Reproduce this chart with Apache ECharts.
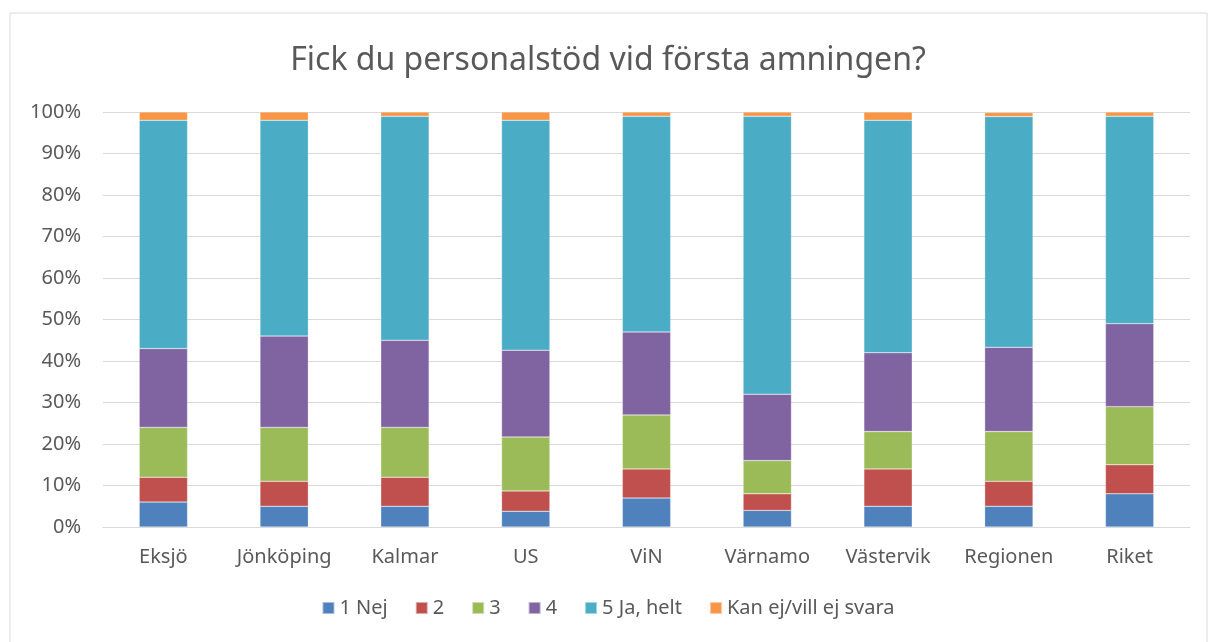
<!DOCTYPE html>
<html>
<head>
<meta charset="utf-8">
<script src="https://cdn.jsdelivr.net/npm/echarts@6/dist/echarts.min.js"></script>
<style>
    html, body { margin: 0; padding: 0; background: #fff; }
    #chart { width: 1216px; height: 642px; }
</style>
</head>
<body>
<div id="chart"></div>
<script>
var categories = ['Eksjö', 'Jönköping', 'Kalmar', 'US', 'ViN', 'Värnamo', 'Västervik', 'Regionen', 'Riket'];
var nej = [6, 5, 5, 3.8, 7, 4, 5, 5, 8];
var two = [6, 6, 7, 4.9, 7, 4, 9, 6, 7];
var three = [12, 13, 12, 13, 13, 8, 9, 12, 14];
var four = [19, 22, 21, 20.9, 20, 16, 19, 20.3, 20];
var jaHelt = [55, 52, 54, 55.4, 52, 67, 56, 55.6, 50];
var kanEj = [2, 2, 1, 2, 1, 1, 2, 1, 1];
var seriesNames = ['1 Nej', '2', '3', '4', '5 Ja, helt', 'Kan ej/vill ej svara'];
var colors = ['#4F81BD', '#C0504D', '#9BBB59', '#8064A2', '#4BACC6', '#F79646'];

window.addEventListener('load', initChart);

function initChart() {
    var chart = echarts.init(document.getElementById('chart'));
    var font = '"Noto Sans", "Open Sans", sans-serif';
    var allData = [nej, two, three, four, jaHelt, kanEj];

    var series = [];
    for (var i = 0; i < seriesNames.length; i++) {
        series.push({
            name: seriesNames[i],
            type: 'bar',
            stack: 'total',
            barWidth: '40%',
            itemStyle: { color: colors[i], borderColor: 'rgba(255,255,255,0.5)', borderWidth: 0.5 },
            data: allData[i]
        });
    }

    var option = {
        color: colors,
        animation: false,
        graphic: [{
            type: 'rect',
            shape: { x: 10, y: 13, width: 1197, height: 640 },
            style: { fill: 'none', stroke: '#d9d9d9', lineWidth: 1 }
        }],
        title: {
            text: 'Fick du personalstöd vid första amningen?',
            left: 'center',
            top: 40,
            textStyle: { fontFamily: font, fontSize: 32, fontWeight: 'normal', color: '#595959' }
        },
        legend: {
            bottom: 19,
            left: 'center',
            itemWidth: 12,
            itemHeight: 12,
            itemGap: 27,
            icon: 'rect',
            textStyle: { fontFamily: font, fontSize: 20, color: '#595959' },
            data: seriesNames
        },
        grid: { left: 103, right: 26, top: 112, bottom: 115 },
        xAxis: {
            type: 'category',
            data: categories,
            axisLine: { lineStyle: { color: '#d9d9d9', width: 1 } },
            axisTick: { show: false },
            axisLabel: { interval: 0, fontFamily: font, fontSize: 20, color: '#595959', margin: 20 }
        },
        yAxis: {
            type: 'value',
            min: 0,
            max: 100,
            interval: 10,
            axisLine: { show: false },
            axisTick: { show: false },
            splitLine: { lineStyle: { color: '#d9d9d9', width: 1 } },
            axisLabel: { formatter: '{value}%', fontFamily: font, fontSize: 20, color: '#595959', margin: 22 }
        },
        series: series
    };

    chart.setOption(option);
}
</script>
</body>
</html>
